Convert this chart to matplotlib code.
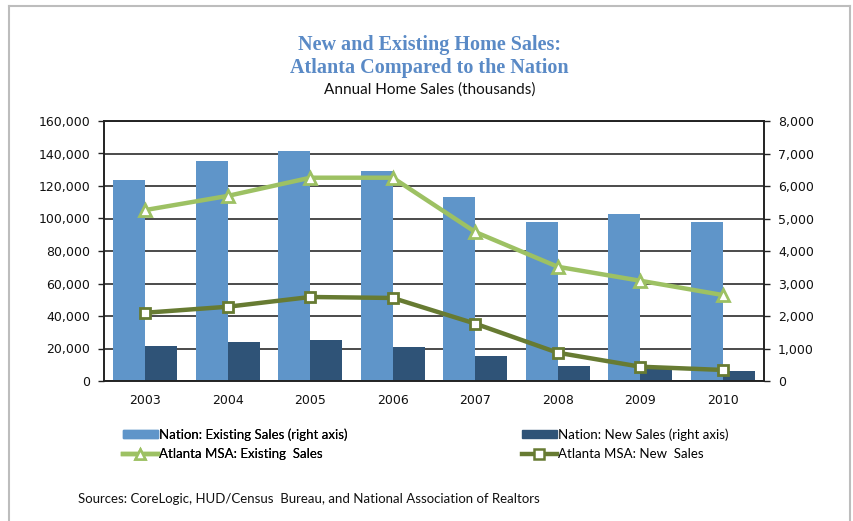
'''
New and existing home sales: Atlanta MSA against the nation, 2003-2010.
'''
import matplotlib
matplotlib.use("Agg")
import matplotlib.pyplot as plt
from matplotlib.lines import Line2D
from matplotlib.patches import Patch
from matplotlib.ticker import FuncFormatter
import numpy as np

# Chart data (thousands of homes)
years = ["2003", "2004", "2005", "2006", "2007", "2008", "2009", "2010"]
nation_existing = [6170, 6770, 7080, 6470, 5650, 4900, 5150, 4900]  # right axis
nation_new = [1070, 1190, 1270, 1040, 760, 470, 360, 310]  # right axis
atlanta_existing = [105200, 113900, 125100, 125100, 91700, 70300, 61700, 52900]
atlanta_new = [42000, 45700, 51700, 51100, 35300, 17400, 8800, 6800]

# Colours
existing_bar_color = "#5f95c9"
new_bar_color = "#2f5377"
atl_existing_color = "#9dc163"
atl_new_color = "#677b32"
title_color = "#5a8ac6"


def main() -> None:
  fig = plt.figure(figsize=(8.54, 5.21), dpi=100)

  # Outer light frame (no bottom edge)
  fig.add_artist(Line2D([8.5 / 854, 8.5 / 854], [0, 1 - 5.5 / 521], transform=fig.transFigure, color="#bdbdbd", lw=1.5))
  fig.add_artist(Line2D([8.5 / 854, 850 / 854], [1 - 5.5 / 521, 1 - 5.5 / 521], transform=fig.transFigure, color="#bdbdbd", lw=1.5))
  fig.add_artist(Line2D([850 / 854, 850 / 854], [0, 1 - 5.5 / 521], transform=fig.transFigure, color="#bdbdbd", lw=1.5))

  # Axes: bars on the right axis, lines on the left axis
  ax = fig.add_axes([104 / 854, 1 - 381 / 521, 660 / 854, 260 / 521])
  ax2 = ax.twinx()
  ax.set_zorder(ax2.get_zorder() + 1)
  ax.patch.set_visible(False)

  x = np.arange(len(years))
  width = 0.39

  ax2.bar(x - width / 2, nation_existing, width, color=existing_bar_color, zorder=2)
  ax2.bar(x + width / 2, nation_new, width, color=new_bar_color, zorder=2)

  ax.plot(x, atlanta_existing, color=atl_existing_color, lw=3.2, marker="^", markersize=8.5,
          markerfacecolor="white", markeredgecolor=atl_existing_color, markeredgewidth=2, zorder=3)
  ax.plot(x, atlanta_new, color=atl_new_color, lw=3.2, marker="s", markersize=7.5,
          markerfacecolor="white", markeredgecolor=atl_new_color, markeredgewidth=2, zorder=3)

  # Axis limits and ticks
  ax.set_xlim(-0.5, len(years) - 0.5)
  ax.set_ylim(0, 160000)
  ax2.set_ylim(0, 8000)
  ax.set_yticks(np.arange(0, 160001, 20000))
  ax2.set_yticks(np.arange(0, 8001, 1000))
  comma = FuncFormatter(lambda v, _: f"{int(v):,}")
  ax.yaxis.set_major_formatter(comma)
  ax2.yaxis.set_major_formatter(comma)
  ax.set_xticks(x)
  ax.set_xticklabels(years)

  ax2.set_axisbelow(True)
  ax2.grid(axis="y", color="#1a1a1a", lw=1.1, zorder=0)

  for a in (ax, ax2):
    a.tick_params(axis="y", direction="out", length=4.5, width=1, color="#222222",
                  labelsize=9, pad=5.5, labelcolor="#111111")
    for spine in a.spines.values():
      spine.set_color("#222222")
      spine.set_linewidth(1.2)
  ax.tick_params(axis="x", length=0, labelsize=9, pad=9, labelcolor="#111111")

  # Titles
  fig.text(0.503, 1 - 45 / 521, "New and Existing Home Sales:", ha="center", va="center",
           fontsize=14.5, fontweight="bold", family="Liberation Serif", color=title_color)
  fig.text(0.503, 1 - 68 / 521, "Atlanta Compared to the Nation", ha="center", va="center",
           fontsize=14.5, fontweight="bold", family="Liberation Serif", color=title_color)
  fig.text(0.503, 1 - 90 / 521, "Annual Home Sales (thousands)", ha="center", va="center",
           fontsize=11, family="Lato", color="#111111")

  # Legends
  left_handles = [
    Patch(color=existing_bar_color),
    Line2D([], [], color=atl_existing_color, lw=3.2, marker="^", markersize=7,
           markerfacecolor="white", markeredgecolor=atl_existing_color, markeredgewidth=1.8),
  ]
  right_handles = [
    Patch(color=new_bar_color),
    Line2D([], [], color=atl_new_color, lw=3.2, marker="s", markersize=6.5,
           markerfacecolor="white", markeredgecolor=atl_new_color, markeredgewidth=1.8),
  ]
  legend_style = dict(frameon=False, prop={"family": "Lato", "size": 9.5}, handlelength=2.6,
                      handleheight=0.6, handletextpad=0.1, labelspacing=0.55,
                      loc="upper left", borderaxespad=0)
  leg1 = fig.legend(left_handles, ["Nation: Existing Sales (right axis)", "Atlanta MSA: Existing  Sales"],
                    bbox_to_anchor=(118 / 854, 1 - 423 / 521), **legend_style)
  fig.add_artist(leg1)
  fig.legend(right_handles, ["Nation: New Sales (right axis)", "Atlanta MSA: New  Sales"],
             bbox_to_anchor=(517 / 854, 1 - 423 / 521), **legend_style)

  # Source note
  fig.text(78 / 854, 1 - 499 / 521, "Sources: CoreLogic, HUD/Census  Bureau, and National Association of Realtors",
           ha="left", va="center", fontsize=9.5, family="Lato", color="#111111")

  fig.savefig("out.png", dpi=100)


if __name__ == "__main__":
  main()
